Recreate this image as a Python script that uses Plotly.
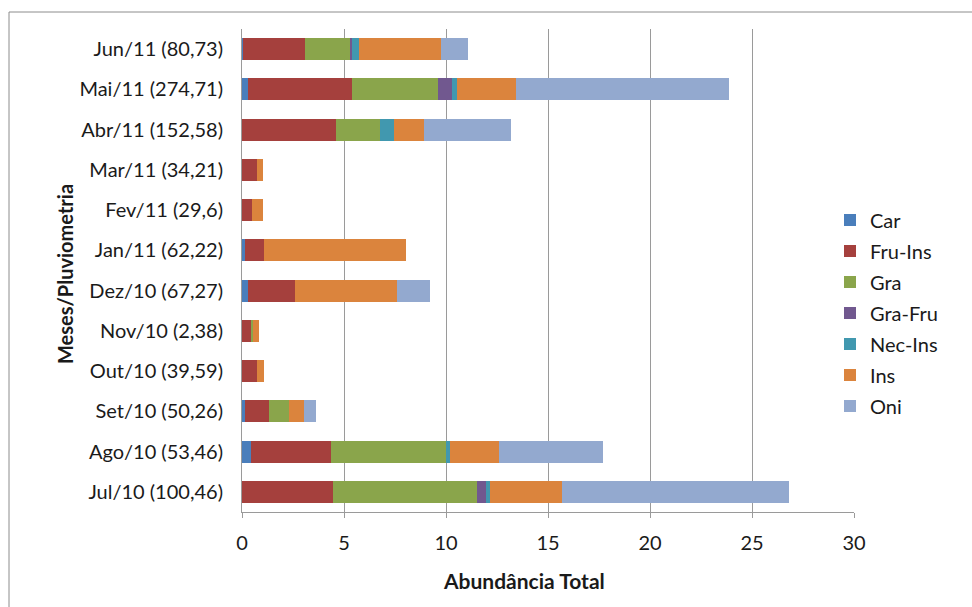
import plotly.graph_objects as go

months = ["Jul/10 (100,46)", "Ago/10 (53,46)", "Set/10 (50,26)", "Out/10 (39,59)",
          "Nov/10 (2,38)", "Dez/10 (67,27)", "Jan/11 (62,22)", "Fev/11 (29,6)",
          "Mar/11 (34,21)", "Abr/11 (152,58)", "Mai/11 (274,71)", "Jun/11 (80,73)"]

car     = [0.00, 0.46, 0.14, 0.00, 0.00, 0.30, 0.15, 0.00, 0.00, 0.00, 0.30, 0.05]
fru_ins = [4.46, 3.90, 1.20, 0.72, 0.48, 2.30, 0.91, 0.48, 0.72, 4.59, 5.08, 3.02]
gra     = [7.08, 5.62, 0.94, 0.00, 0.05, 0.00, 0.00, 0.00, 0.00, 2.19, 4.23, 2.26]
gra_fru = [0.44, 0.00, 0.00, 0.00, 0.00, 0.00, 0.00, 0.00, 0.00, 0.00, 0.68, 0.08]
nec_ins = [0.16, 0.20, 0.00, 0.00, 0.00, 0.00, 0.00, 0.00, 0.00, 0.66, 0.25, 0.33]
ins     = [3.54, 2.40, 0.78, 0.38, 0.32, 5.02, 6.98, 0.53, 0.33, 1.47, 2.88, 4.00]
oni     = [11.14, 5.10, 0.56, 0.00, 0.00, 1.58, 0.00, 0.00, 0.00, 4.29, 10.45, 1.35]

series = [("Car", car, "#4a7ebb"), ("Fru-Ins", fru_ins, "#a5403d"),
          ("Gra", gra, "#8aa54b"), ("Gra-Fru", gra_fru, "#71588f"),
          ("Nec-Ins", nec_ins, "#4198af"), ("Ins", ins, "#db843d"),
          ("Oni", oni, "#93a9cf")]

FONT = "Lato"
FS = 20
TXT = "#1a1a1a"
GRID = "#9a9a9a"

fig = go.Figure()
for name, vals, col in series:
    fig.add_trace(go.Bar(y=months, x=vals, name=name, orientation="h",
                         marker=dict(color=col, line=dict(width=0)),
                         legendgroup=name))

W, H = 972, 607
L, R, T, B = 242, 118, 29, 95
pw, ph = W - L - R, H - T - B

def px_x(x):
    return (x - L) / pw

def px_y(y):
    return (H - B - y) / ph

fig.update_layout(
    width=W, height=H, barmode="stack", bargap=0.45,
    margin=dict(l=L, r=R, t=T, b=B, pad=0),
    paper_bgcolor="white", plot_bgcolor="white",
    font=dict(family=FONT, size=FS, color=TXT),
    showlegend=True,
    legend=dict(x=px_x(830), xanchor="left", y=px_y(313), yanchor="middle",
                traceorder="grouped", tracegroupgap=2,
                font=dict(family=FONT, size=FS, color=TXT),
                bgcolor="rgba(0,0,0,0)", itemwidth=30),
    xaxis=dict(range=[0, 30], dtick=5, showgrid=True, gridcolor=GRID, gridwidth=1,
               showline=True, linecolor=GRID, linewidth=1, ticks="outside",
               ticklen=5, tickcolor=GRID, zeroline=False, ticklabelstandoff=8,
               tickfont=dict(family=FONT, size=FS, color=TXT)),
    yaxis=dict(categoryorder="array", categoryarray=months, showline=True,
               linecolor=GRID, linewidth=1, showgrid=False, ticks="",
               ticklabelstandoff=14, tickfont=dict(family=FONT, size=FS, color=TXT)),
)

fig.add_annotation(text="<b>Abundância Total</b>", xref="paper", yref="paper",
                   x=px_x(524), y=px_y(580), xanchor="center", yanchor="middle",
                   showarrow=False, font=dict(family=FONT, size=FS + 1, color=TXT))
fig.add_annotation(text="<b>Meses/Pluviometria</b>", xref="paper", yref="paper",
                   x=px_x(65), y=px_y(274), xanchor="center", yanchor="middle",
                   textangle=-90, showarrow=False,
                   font=dict(family=FONT, size=FS, color=TXT))

# outer chart border (partially outside the visible picture, as in the reference)
fig.add_shape(type="rect", xref="paper", yref="paper",
              x0=px_x(9), x1=px_x(W + 20), y0=px_y(H + 20), y1=px_y(12),
              line=dict(color="#8c8c8c", width=1), fillcolor="rgba(0,0,0,0)", layer="below")

fig.write_html("out.html")
